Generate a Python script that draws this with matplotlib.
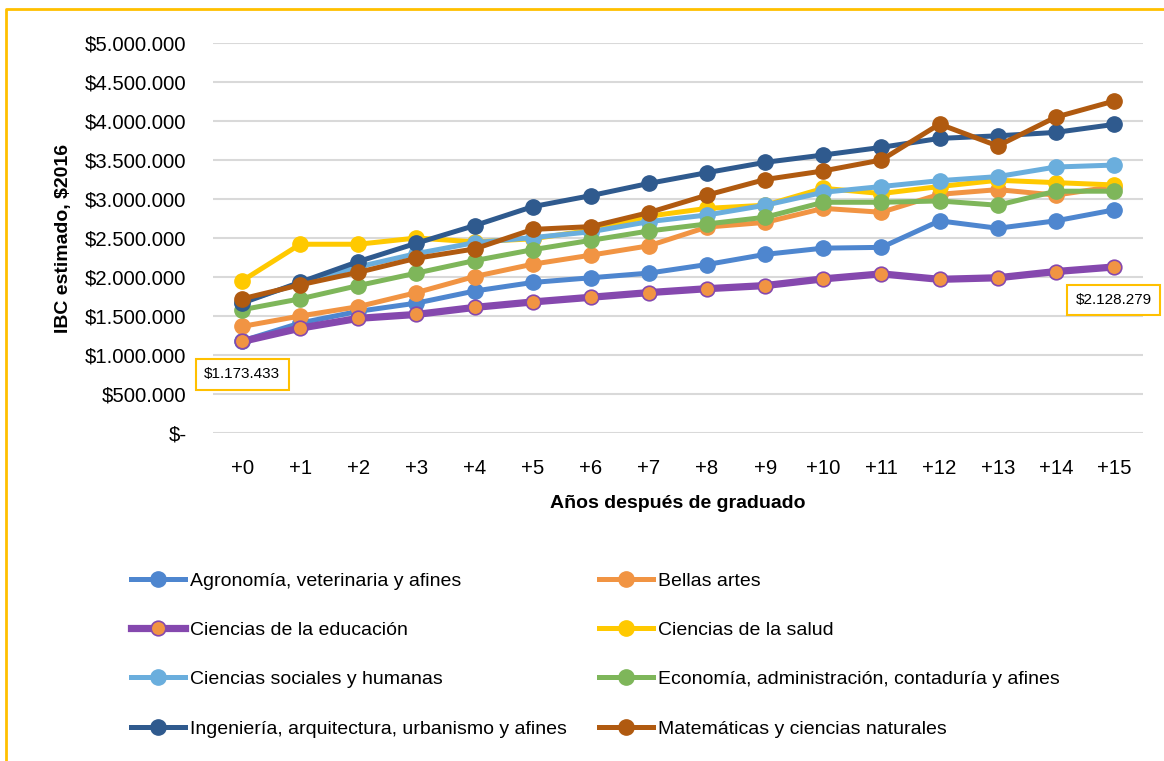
import matplotlib.pyplot as plt
from matplotlib.lines import Line2D
from matplotlib.ticker import FuncFormatter

plt.rcParams['font.family'] = ['Liberation Sans', 'DejaVu Sans']

# años después de graduado
anios = ['+' + str(i) for i in range(16)]

agronomia = [1180000, 1410000, 1560000, 1665000, 1820000, 1930000, 1990000, 2050000,
             2160000, 2290000, 2370000, 2380000, 2720000, 2625000, 2720000, 2860000]
bellas_artes = [1366000, 1500000, 1620000, 1800000, 2006000, 2164000, 2280000, 2400000,
                2640000, 2700000, 2880000, 2830000, 3060000, 3120000, 3050000, 3160000]
educacion = [1173433, 1344000, 1470000, 1520000, 1610000, 1680000, 1740000, 1800000,
             1850000, 1890000, 1976000, 2040000, 1970000, 1990000, 2070000, 2128279]
salud = [1950000, 2420000, 2420000, 2500000, 2450000, 2490000, 2600000, 2780000,
         2880000, 2920000, 3137000, 3070000, 3160000, 3240000, 3210000, 3180000]
sociales = [1680000, 1920000, 2130000, 2300000, 2440000, 2505000, 2580000, 2710000,
            2795000, 2920000, 3086000, 3160000, 3235000, 3287000, 3410000, 3435000]
economia = [1580000, 1720000, 1890000, 2050000, 2210000, 2350000, 2470000, 2590000,
            2680000, 2766000, 2958000, 2958000, 2975000, 2920000, 3100000, 3100000]
ingenieria = [1665000, 1933000, 2198000, 2433000, 2659000, 2902000, 3043000, 3200000,
              3338000, 3470000, 3564000, 3662000, 3777000, 3810000, 3854000, 3956000]
matematicas = [1720000, 1900000, 2060000, 2240000, 2360000, 2610000, 2646000, 2826000,
               3050000, 3250000, 3360000, 3500000, 3960000, 3680000, 4050000, 4255000]

nombres = ['Agronomía, veterinaria y afines', 'Bellas artes', 'Ciencias de la educación',
           'Ciencias de la salud', 'Ciencias sociales y humanas',
           'Economía, administración, contaduría y afines',
           'Ingeniería, arquitectura, urbanismo y afines', 'Matemáticas y ciencias naturales']
series = [agronomia, bellas_artes, educacion, salud, sociales, economia, ingenieria, matematicas]
colores = ['#4E86CF', '#F19443', '#8548AE', '#FFC900', '#6AAEDD', '#7EB65A', '#2F5A8E', '#B05A10']


def pesos(v, pos):
    if v == 0:
        return '$-'
    return '$' + format(int(v), ',').replace(',', '.')


fig = plt.figure(figsize=(11.64, 7.61), dpi=100)
ax = fig.add_axes([213 / 1164, 1 - 433 / 761, 930 / 1164, 390 / 761])

x = list(range(len(anios)))
lineas = []
for nombre, y, c in zip(nombres, series, colores):
    if nombre == 'Ciencias de la educación':
        l, = ax.plot(x, y, color=c, lw=5.2, marker='o', ms=10.5, mfc='#F19443',
                     mec=c, mew=1.2, label=nombre)
    else:
        l, = ax.plot(x, y, color=c, lw=3.6, marker='o', ms=11, mfc=c, mec=c, label=nombre)
    lineas.append(l)

ax.set_xlim(-0.5, 15.5)
ax.set_ylim(0, 5000000)
ax.set_yticks(range(0, 5000001, 500000))
ax.yaxis.set_major_formatter(FuncFormatter(pesos))
ax.set_xticks(x)
ax.set_xticklabels(anios)
ax.tick_params(axis='both', length=0, labelsize=14.6)
ax.tick_params(axis='y', pad=19)
ax.tick_params(axis='x', pad=19)
ax.grid(axis='y', color='#D9D9D9', lw=1.5)
ax.set_axisbelow(True)
for s in ax.spines.values():
    s.set_visible(False)

ax.set_ylabel('IBC estimado, $2016', fontsize=14, fontweight='bold')
ax.yaxis.set_label_coords(-0.152, 0.5)
ax.set_xlabel('Años después de graduado', fontsize=14, fontweight='bold')
ax.xaxis.set_label_coords(0.5, -0.16)

caja = dict(boxstyle='square,pad=0.55', fc='white', ec='#FFC000', lw=1.5)
ax.annotate('$1.173.433', xy=(0, educacion[0]), xytext=(0, -33), textcoords='offset pixels',
            ha='center', va='center', fontsize=11, bbox=caja)
ax.annotate('$2.128.279', xy=(15, educacion[-1]), xytext=(0, -33), textcoords='offset pixels',
            ha='center', va='center', fontsize=11, bbox=caja)

orden = [0, 2, 4, 6, 1, 3, 5, 7]
fig.legend([lineas[i] for i in orden], [nombres[i] for i in orden], ncol=2,
           loc='upper left', bbox_to_anchor=(131 / 1164, 1 - 572 / 761),
           frameon=False, fontsize=14, borderpad=0, borderaxespad=0,
           handlelength=2.8, handletextpad=0.25, columnspacing=1.62, labelspacing=1.63)

# marco amarillo (solo izquierda y arriba)
fig.add_artist(Line2D([6 / 1164, 6 / 1164, 1], [0, 1 - 9 / 761, 1 - 9 / 761],
                      transform=fig.transFigure, color='#FFC000', lw=2))

fig.savefig('out.png', dpi=100)
